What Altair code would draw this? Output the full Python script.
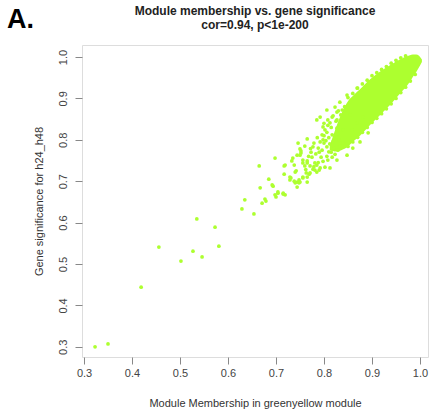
import altair as alt
import pandas as pd

# scattered gene points (Module Membership, Gene significance)
mm = [0.323, 0.350, 0.419, 0.456, 0.502, 0.527, 0.535, 0.546, 0.573, 0.581,
      0.629, 0.635, 0.654, 0.671, 0.679, 0.677, 0.667, 0.665, 0.685, 0.692,
      0.694, 0.700, 0.704, 0.715, 0.719, 0.698, 0.717, 0.729, 0.735, 0.738,
      0.742, 0.744, 0.748, 0.750, 0.752, 0.740, 0.756, 0.760, 0.765, 0.771,
      0.775, 0.781, 0.785, 0.790, 0.769, 0.763, 0.756, 0.748, 0.738,
      0.719, 0.717, 0.733, 0.731, 0.740, 0.744, 0.746, 0.750, 0.765, 0.760,
      0.752, 0.756, 0.765, 0.777, 0.781, 0.794, 0.796, 0.798, 0.800, 0.806,
      0.810, 0.817, 0.808, 0.802, 0.792, 0.798, 0.8125, 0.827, 0.827, 0.829,
      0.840, 0.840, 0.854, 0.858, 0.869, 0.881, 0.848, 0.860, 0.875, 0.892,
      0.827, 0.8125, 0.802, 0.792, 0.785, 0.777, 0.771, 0.765, 0.756, 0.750,
      0.744, 0.765, 0.729, 0.698, 0.704, 0.715,
      0.785, 0.806, 0.833, 0.848, 0.869, 0.823, 0.827, 0.817, 0.808,
      0.783, 0.788, 0.792, 0.790, 0.796, 0.800, 0.804, 0.806, 0.810, 0.812,
      0.815, 0.817, 0.819, 0.821, 0.823, 0.825, 0.827, 0.829, 0.831, 0.833,
      0.835, 0.838, 0.815, 0.806, 0.798, 0.788, 0.779, 0.773, 0.768, 0.762,
      0.786, 0.779, 0.772, 0.808, 0.800, 0.819, 0.830, 0.843,
      0.850, 0.860, 0.870, 0.880, 0.890, 0.900, 0.910, 0.920, 0.930, 0.940,
      0.950, 0.960, 0.970,
      0.850, 0.860, 0.870, 0.880, 0.890, 0.900, 0.910, 0.920, 0.930, 0.940,
      0.950, 0.960, 0.970, 0.980, 0.990]
gs = [0.300, 0.307, 0.444, 0.541, 0.507, 0.531, 0.609, 0.517, 0.589, 0.543,
      0.633, 0.655, 0.621, 0.647, 0.652, 0.657, 0.684, 0.737, 0.705, 0.691,
      0.688, 0.662, 0.671, 0.669, 0.667, 0.756, 0.737, 0.710, 0.756, 0.739,
      0.725, 0.698, 0.703, 0.763, 0.773, 0.696, 0.744, 0.737, 0.749, 0.737,
      0.758, 0.727, 0.739, 0.727, 0.717, 0.720, 0.710, 0.696, 0.700,
      0.739, 0.717, 0.749, 0.708, 0.722, 0.763, 0.792, 0.778, 0.802, 0.785,
      0.768, 0.751, 0.744, 0.783, 0.744, 0.758, 0.812, 0.800, 0.792, 0.783,
      0.771, 0.758, 0.751, 0.824, 0.855, 0.831, 0.841, 0.848, 0.807, 0.775,
      0.824, 0.792, 0.860, 0.824, 0.841, 0.855, 0.763, 0.780, 0.795, 0.817,
      0.751, 0.732, 0.734, 0.732, 0.722, 0.729, 0.720, 0.710, 0.708, 0.698,
      0.686, 0.698, 0.703, 0.667, 0.674, 0.671,
      0.848, 0.872, 0.891, 0.908, 0.925, 0.879, 0.867, 0.855, 0.848,
      0.766, 0.780, 0.795, 0.770, 0.775, 0.810, 0.798, 0.818, 0.805, 0.790,
      0.830, 0.812, 0.796, 0.780, 0.765, 0.845, 0.828, 0.815, 0.800, 0.785,
      0.860, 0.872, 0.770, 0.760, 0.748, 0.745, 0.735, 0.770, 0.760, 0.728,
      0.805, 0.792, 0.779, 0.835, 0.840, 0.858, 0.870, 0.880,
      0.902, 0.912, 0.925, 0.935, 0.944, 0.955, 0.962, 0.970, 0.977, 0.985,
      0.992, 0.998, 1.003,
      0.784, 0.795, 0.806, 0.818, 0.830, 0.842, 0.852, 0.863, 0.875, 0.887,
      0.900, 0.914, 0.927, 0.942, 0.958]

# dense core of the cloud (thousands of overlapping genes)
core_mm = [0.812, 0.825, 0.838, 0.850, 0.862, 0.875, 0.896, 0.917, 0.9375,
           0.958, 0.979, 0.985, 0.992, 0.998, 1.004]
core_hi = [0.785, 0.830, 0.868, 0.893, 0.908, 0.922, 0.946, 0.965, 0.980,
           0.994, 1.004, 1.006, 1.006, 1.003, 0.994]
core_lo = [0.775, 0.772, 0.776, 0.784, 0.797, 0.810, 0.836, 0.860, 0.884,
           0.911, 0.940, 0.952, 0.963, 0.975, 0.988]

x_ticks = [0.3, 0.4, 0.5, 0.6, 0.7, 0.8, 0.9, 1.0]
y_ticks = [0.3, 0.4, 0.5, 0.6, 0.7, 0.8, 0.9, 1.0]

title_lines = ["Module membership vs. gene significance", "cor=0.94, p<1e-200"]

COLOR = "#ADFF2F"
FONT = "Liberation Sans"

pts = pd.DataFrame({"mm": mm, "gs": gs})
core = pd.DataFrame({"mm": core_mm, "hi": core_hi, "lo": core_lo})
lab = pd.DataFrame({"t": ["A."]})
t1 = pd.DataFrame({"t": [title_lines[0]]})
t2 = pd.DataFrame({"t": [title_lines[1]]})

xs = alt.Scale(domain=[0.2958, 1.0167], nice=False, zero=False)
ys = alt.Scale(domain=[0.2754, 1.029], nice=False, zero=False)

xaxis = alt.Axis(values=x_ticks, format=".1f", grid=False, domain=False,
                 tickColor="#888", tickSize=7, labelPadding=3,
                 labelFontSize=11, labelColor="#444", labelFont=FONT,
                 title="Module Membership in greenyellow module",
                 titleFont=FONT, titleFontSize=11, titleFontWeight="normal",
                 titleColor="#333", titleBaseline="alphabetic", titleY=49)
yaxis = alt.Axis(values=y_ticks, format=".1f", grid=False, domain=False,
                 tickColor="#888", tickSize=7, labelPadding=9,
                 labelAngle=270, labelAlign="center", labelBaseline="alphabetic",
                 labelFontSize=11, labelColor="#444", labelFont=FONT,
                 title="Gene significance for h24_h48",
                 titleFont=FONT, titleFontSize=11, titleFontWeight="normal",
                 titleColor="#333", titleAngle=270, titleBaseline="alphabetic",
                 titleAlign="center", titleX=-40, titleY=156)

band = alt.Chart(core).mark_area(color=COLOR, interpolate="monotone").encode(
    x=alt.X("mm:Q", scale=xs, axis=xaxis),
    y=alt.Y("hi:Q", scale=ys, axis=yaxis),
    y2="lo:Q",
)

dots = alt.Chart(pts).mark_circle(color=COLOR, size=14, opacity=1).encode(
    x=alt.X("mm:Q", scale=xs),
    y=alt.Y("gs:Q", scale=ys),
)

panel = alt.Chart(lab).mark_text(fontSize=27, fontWeight="bold", font=FONT,
                                 align="left", baseline="alphabetic",
                                 color="black").encode(
    x=alt.value(-75), y=alt.value(-17), text="t:N")

title1 = alt.Chart(t1).mark_text(fontSize=12, fontWeight="bold", font=FONT,
                                 align="center", baseline="alphabetic",
                                 color="#222").encode(
    x=alt.value(173), y=alt.value(-30), text="t:N")
title2 = alt.Chart(t2).mark_text(fontSize=12, fontWeight="bold", font=FONT,
                                 align="center", baseline="alphabetic",
                                 color="#222").encode(
    x=alt.value(173), y=alt.value(-16), text="t:N")

chart = alt.layer(band, dots, panel, title1, title2).properties(
    width=346, height=312,
    autosize=alt.AutoSizeParams(type="none"),
    padding={"left": 82, "top": 45, "right": 5, "bottom": 56},
).configure_view(stroke="#999", strokeWidth=1).configure(background="white")

chart.save("out.html", embed_options={"renderer": "svg", "actions": False})
